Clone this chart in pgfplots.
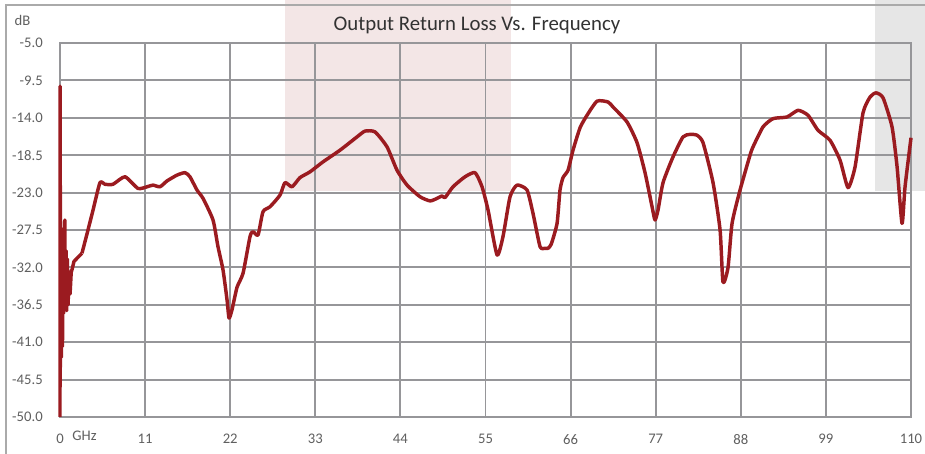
\documentclass[border=0pt]{standalone}
\usepackage{fontspec}
\setmainfont{Carlito}
\usepackage{pgfplots}
\pgfplotsset{compat=1.18}
\definecolor{curvec}{RGB}{155,27,32}
\definecolor{gridc}{RGB}{150,150,153}
\definecolor{framec}{RGB}{170,170,170}
\definecolor{labc}{RGB}{95,95,95}
\definecolor{titlec}{RGB}{50,50,50}
\definecolor{pinkc}{RGB}{243,230,230}
\definecolor{grayc}{RGB}{230,230,230}
\begin{document}
\begin{tikzpicture}
\begin{axis}[
  set layers,
  scale only axis, width=638.25pt, height=280.5pt,
  xmin=0, xmax=110, ymin=-50, ymax=-5,
  xtick={0,11,22,33,44,55,66,77,88,99,110},
  ytick={-50,-45.5,-41,-36.5,-32,-27.5,-23,-18.5,-14,-9.5,-5},
  grid=major,
  major grid style={gridc, line width=1.45pt},
  axis line style={gridc, line width=1.45pt},
  major tick length=0pt,
  tick label style={font=\fontsize{11}{13}\selectfont, text=labc},
  /pgf/number format/assume math mode=true,
  xticklabel style={anchor=north, inner sep=0pt, yshift=-12.75pt},
  yticklabel style={anchor=east, inner sep=0pt, xshift=-12.75pt,
    /pgf/number format/fixed, /pgf/number format/fixed zerofill, /pgf/number format/precision=1},
  clip=false,
]
\begin{pgfonlayer}{axis background}
  \fill[pinkc] (axis cs:29.08,0.174) rectangle (axis cs:58.30,-22.8);
  \fill[grayc] (axis cs:105.35,0.174) rectangle (axis cs:111.9,-22.8);
  \draw[framec, line width=1.4pt] (axis cs:-6.98,-54.6) -- (axis cs:-6.98,-0.427) -- (axis cs:112,-0.427);
\end{pgfonlayer}
\addplot[curvec, line width=2.6pt, line join=round] coordinates {
(0,-50)(0.02,-10.2)(0.06,-44)(0.12,-27.3)(0.18,-42.8)(0.25,-28)(0.32,-41.5)(0.4,-29)
(0.48,-37.5)(0.55,-27.8)(0.62,-26.3)(0.7,-36.8)(0.78,-30)(0.86,-37.2)(0.95,-31)
(1.05,-36.5)(1.15,-32.5)(1.3,-35.2)(1.45,-32.6)(1.6,-32.1)(1.8,-31.3)(2.2,-30.9)
(2.84,-30.3)
};
\addplot[curvec, line width=2.6pt, line join=round, smooth, tension=0.35] coordinates {
(2.84,-30.3)(3.62,-27.5)(4.27,-25.1)(5.17,-21.8)(5.82,-22.0)(6.85,-22.0)(8.40,-21.1)
(10.08,-22.5)(11.25,-22.3)(12.02,-22.1)(12.93,-22.3)(13.83,-21.6)(15.12,-20.9)
(16.16,-20.6)(16.80,-21.1)(17.71,-22.7)(18.49,-23.7)(19.78,-26.3)(20.42,-29.5)
(21.07,-32.3)(21.59,-35.9)(21.85,-38.1)(22.23,-37.1)(22.88,-34.4)(23.66,-32.7)
(24.56,-28.3)(24.95,-27.7)(25.60,-28.1)(26.24,-25.3)(27.15,-24.7)(28.44,-23.3)
(29.08,-21.8)(29.99,-22.3)(31.02,-21.2)(32.32,-20.5)(34.00,-19.3)(36.19,-17.9)
(38.39,-16.3)(39.43,-15.6)(40.72,-15.7)(42.27,-17.5)(43.56,-20.3)(44.86,-22.1)
(46.54,-23.5)(47.83,-24.0)(48.73,-23.7)(49.38,-23.4)(49.77,-23.6)(50.80,-22.3)
(52.35,-21.1)(53.65,-20.6)(54.55,-22.3)(55.33,-25.1)(56.49,-30.5)(57.26,-28.3)
(58.17,-23.5)(59.07,-22.1)(60.37,-22.7)(61.14,-25.5)(62.05,-29.5)(62.69,-29.7)
(63.08,-29.7)(63.5,-29.2)(64.25,-26.7)(64.63,-22.7)(65.02,-21.2)(65.67,-20.3)
(66.31,-17.9)(67.22,-15.2)(68.12,-13.7)(69.42,-12.0)(70.84,-12.1)(71.48,-12.7)
(73.29,-14.5)(74.59,-17.0)(75.62,-20.6)(76.53,-24.7)(76.91,-26.3)(77.30,-25.1)
(77.95,-21.8)(79.24,-18.7)(80.53,-16.3)(81.44,-16.0)(82.34,-16.1)(83.12,-17.0)
(84.41,-21.8)(85.32,-27.5)(85.70,-33.8)(86.35,-32.0)(86.87,-26.7)(87.90,-22.7)
(89.19,-18.5)(89.58,-17.5)(90.87,-15.1)(92.17,-14.1)(93.98,-13.9)(95.40,-13.1)
(96.69,-13.7)(97.98,-15.5)(99.53,-16.7)(100.83,-19.1)(101.86,-22.4)(102.77,-19.9)
(103.80,-13.4)(104.71,-11.5)(105.48,-11.0)(106.39,-11.6)(107.55,-15.1)(108.20,-19.9)
(108.84,-26.7)(109.23,-22.3)(110.0,-16.4)
};
\node[text=titlec, font=\fontsize{15.6}{18}\selectfont] at (axis cs:53.9,-2.83) {Output Return Loss Vs. Frequency};
\node[text=labc, font=\fontsize{11}{13}\selectfont] at (axis cs:-4.85,-2.29) {dB};
\node[text=labc, font=\fontsize{11}{13}\selectfont] at (axis cs:3.17,-52.29) {GHz};
\coordinate (bbl) at (axis cs:-7.756,-54.45);
\coordinate (btr) at (axis cs:111.81,0.174);
\end{axis}
\pgfresetboundingbox
\path[use as bounding box] (bbl) rectangle (btr);
\end{tikzpicture}
\end{document}
